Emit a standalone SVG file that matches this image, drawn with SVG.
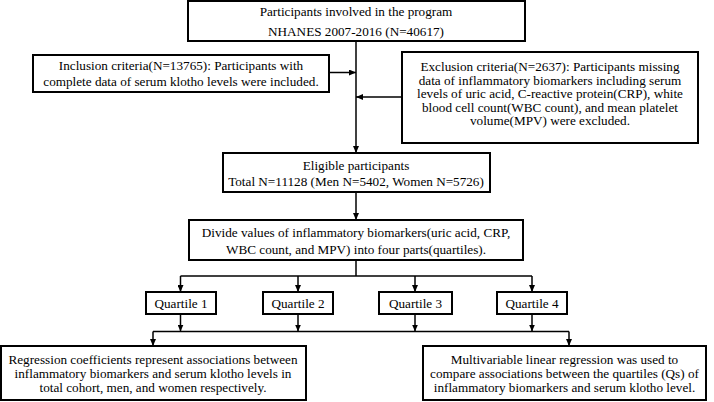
<svg xmlns="http://www.w3.org/2000/svg" width="714" height="402" viewBox="0 0 714 402">
<style>
.box{fill:#fff;stroke:#000;stroke-width:2}
.t{font-family:'Liberation Serif','Times New Roman',serif;font-size:13.2px;fill:#000;text-anchor:middle}
.c{fill:none;stroke:#000;stroke-width:1.5}
</style>
<defs>
<marker id="ah" viewBox="0 0 10 10" refX="10" refY="5" markerWidth="7" markerHeight="6" markerUnits="userSpaceOnUse" orient="auto" preserveAspectRatio="none">
<path d="M0,0 L10,5 L0,10 z" fill="#000"/>
</marker>
</defs>
<g id="connectors">
<path class="c" d="M356,41 V153" marker-end="url(#ah)"/>
<path class="c" d="M329,72.5 H356" marker-end="url(#ah)"/>
<path class="c" d="M402,97 H356" marker-end="url(#ah)"/>
<path class="c" d="M356,192 V220" marker-end="url(#ah)"/>
<path class="c" d="M356,260 V276"/>
<path class="c" d="M180.5,276 H532"/>
<path class="c" d="M180.5,276 V292" marker-end="url(#ah)"/>
<path class="c" d="M298,276 V292" marker-end="url(#ah)"/>
<path class="c" d="M415,276 V292" marker-end="url(#ah)"/>
<path class="c" d="M532,276 V292" marker-end="url(#ah)"/>
<path class="c" d="M180.5,314 V331.5" marker-end="url(#ah)"/>
<path class="c" d="M298,314 V331.5" marker-end="url(#ah)"/>
<path class="c" d="M415,314 V331.5" marker-end="url(#ah)"/>
<path class="c" d="M532,314 V331.5" marker-end="url(#ah)"/>
<path class="c" d="M153,331.5 H569"/>
<path class="c" d="M153,331.5 V346" marker-end="url(#ah)"/>
<path class="c" d="M569,331.5 V346" marker-end="url(#ah)"/>
</g>
<g id="top">
<rect class="box" x="188" y="1" width="337" height="40"/>
<text class="t" x="356" y="16">Participants involved in the program</text>
<text class="t" x="356" y="36">NHANES 2007-2016 (N=40617)</text>
</g>
<g id="inclusion">
<rect class="box" x="33" y="55" width="296" height="37"/>
<text class="t" x="181" y="70">Inclusion criteria(N=13765): Participants with</text>
<text class="t" x="181" y="86">complete data of serum klotho levels were included.</text>
</g>
<g id="exclusion">
<rect class="box" x="402" y="52" width="296" height="91"/>
<text class="t" x="550" y="71">Exclusion criteria(N=2637): Participants missing</text>
<text class="t" x="550" y="84.5">data of inflammatory biomarkers including serum</text>
<text class="t" x="550" y="98">levels of uric acid, C-reactive protein(CRP), white</text>
<text class="t" x="550" y="111.5">blood cell count(WBC count), and mean platelet</text>
<text class="t" x="550" y="125">volume(MPV) were excluded.</text>
</g>
<g id="eligible">
<rect class="box" x="223" y="153" width="267" height="39"/>
<text class="t" x="356" y="170">Eligible participants</text>
<text class="t" x="356" y="186">Total N=11128 (Men N=5402, Women N=5726)</text>
</g>
<g id="divide">
<rect class="box" x="189" y="220" width="334" height="40"/>
<text class="t" x="356" y="237">Divide values of inflammatory biomarkers(uric acid, CRP,</text>
<text class="t" x="356" y="254">WBC count, and MPV) into four parts(quartiles).</text>
</g>
<g id="q1">
<rect class="box" x="146" y="292" width="70" height="22"/>
<text class="t" x="181" y="307.5">Quartile 1</text>
</g>
<g id="q2">
<rect class="box" x="263" y="292" width="70" height="22"/>
<text class="t" x="298" y="307.5">Quartile 2</text>
</g>
<g id="q3">
<rect class="box" x="379" y="292" width="73" height="22"/>
<text class="t" x="415.5" y="307.5">Quartile 3</text>
</g>
<g id="q4">
<rect class="box" x="497" y="292" width="70" height="22"/>
<text class="t" x="532" y="307.5">Quartile 4</text>
</g>
<g id="regression">
<rect class="box" x="1" y="346" width="305" height="54"/>
<text class="t" x="153" y="364">Regression coefficients represent associations between</text>
<text class="t" x="153" y="378">inflammatory biomarkers and serum klotho levels in</text>
<text class="t" x="153" y="392">total cohort, men, and women respectively.</text>
</g>
<g id="multivariable">
<rect class="box" x="423" y="346" width="283" height="54"/>
<text class="t" x="564.5" y="364">Multivariable linear regression was used to</text>
<text class="t" x="564.5" y="378">compare associations between the quartiles (Qs) of</text>
<text class="t" x="564.5" y="392">inflammatory biomarkers and serum klotho level.</text>
</g>
</svg>
